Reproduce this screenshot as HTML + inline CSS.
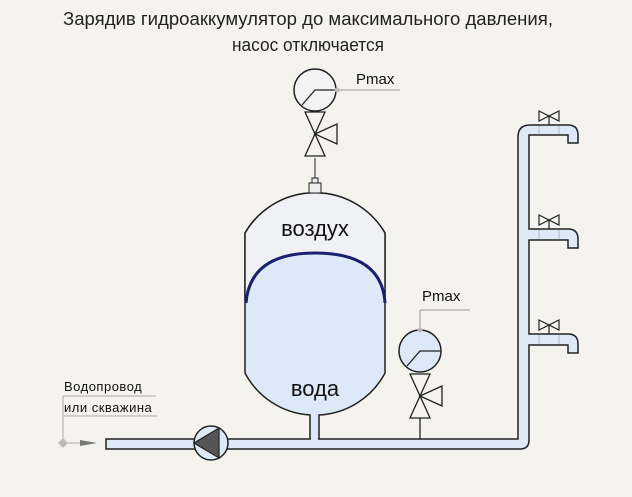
<!DOCTYPE html>
<html><head><meta charset="utf-8"><style>
html,body{margin:0;padding:0;background:#f5f3ee;}
svg{display:block;font-family:"Liberation Sans","DejaVu Sans",sans-serif;}
</style></head><body>
<svg width="632" height="497" viewBox="0 0 632 497" xmlns="http://www.w3.org/2000/svg">
<rect width="632" height="497" fill="#f5f3ee"/>
<text x="308" y="25" font-size="18" text-anchor="middle" fill="#222" textLength="490" lengthAdjust="spacingAndGlyphs">Зарядив гидроаккумулятор до максимального давления,</text>
<text x="308" y="51" font-size="18" text-anchor="middle" fill="#222" textLength="152" lengthAdjust="spacingAndGlyphs">насос отключается</text>

<!-- tank -->
<path d="M245,373 L245,233 A81,81 0 0 1 385,233 L385,373 A79,79 0 0 1 319,415 L319,439 L310,439 L310,415 A79,79 0 0 1 245,373 Z" fill="#dde9f6" stroke="#222" stroke-width="1.5"/>
<path d="M245,303 L245,233 A81,81 0 0 1 385,233 L385,303 Q380,253 315,253 Q250,253 245,303 Z" fill="#eff1f4"/>
<path d="M245,300 L245,233 A81,81 0 0 1 385,233 L385,300" fill="none" stroke="#222" stroke-width="1.5"/>
<path d="M246,303 Q250,253 315,253 Q382,253 385,303" fill="none" stroke="#1a1f6e" stroke-width="3"/>
<text x="315" y="236" font-size="22" text-anchor="middle" fill="#111">воздух</text>
<text x="315" y="396" font-size="22" text-anchor="middle" fill="#111">вода</text>
<rect x="309" y="183" width="12" height="10" fill="#eee" stroke="#222"/>
<rect x="312" y="178" width="6" height="5" fill="#eee" stroke="#222"/>
<line x1="315" y1="158" x2="315" y2="178" stroke="#222"/>

<!-- top gauge & valve -->
<circle cx="315" cy="90" r="21" fill="#f3f3f3" stroke="#222" stroke-width="1.5"/>
<polyline points="302,105 315,90 336,90" fill="none" stroke="#222" stroke-width="1.3"/>
<line x1="336" y1="90" x2="400" y2="90" stroke="#999"/>
<circle cx="337" cy="90" r="2.5" fill="#bbb"/>
<text x="356" y="84" font-size="15" fill="#111">Pmax</text>
<path d="M305,112 L325,112 L315,134 Z M305,156 L325,156 L315,134 Z M315,134 L337,124 L337,144 Z" fill="none" stroke="#222" stroke-width="1.3"/>

<!-- main pipe -->
<path d="M106,439 L518,439 L518,137 Q518,125 530,125 L568,125 Q578,125 578,135 L578,143 L568,143 L568,135 L529,135 L529,229 L568,229 Q578,229 578,239 L578,248 L568,248 L568,240 L529,240 L529,334 L568,334 Q578,334 578,344 L578,353 L568,353 L568,345 L529,345 L529,440 Q529,449 520,449 L106,449 Z" fill="#dde9f6" stroke="#222" stroke-width="1.5"/>
<rect x="311" y="437" width="7" height="4" fill="#dde9f6"/>
<g stroke="#aab" stroke-width="0.8">
<line x1="539" y1="126" x2="539" y2="134"/><line x1="559" y1="126" x2="559" y2="134"/>
<line x1="539" y1="230" x2="539" y2="239"/><line x1="559" y1="230" x2="559" y2="239"/>
<line x1="539" y1="335" x2="539" y2="344"/><line x1="559" y1="335" x2="559" y2="344"/>
</g>
<g fill="none" stroke="#222" stroke-width="1.2">
<path d="M539,111 L559,121 L559,111 L539,121 Z M549,116 L549,125"/>
<path d="M539,215 L559,225 L559,215 L539,225 Z M549,220 L549,229"/>
<path d="M539,320 L559,330 L559,320 L539,330 Z M549,325 L549,334"/>
</g>

<!-- pump -->
<circle cx="211" cy="443" r="17" fill="#dde9f6" stroke="#222" stroke-width="1.5"/>
<path d="M194,443 L219,428 L219,458 Z" fill="#555" stroke="#222" stroke-width="1.2"/>

<!-- second gauge -->
<line x1="420" y1="418" x2="420" y2="439" stroke="#222" stroke-width="1.3"/>
<circle cx="420" cy="351" r="21" fill="#dde9f6" stroke="#222" stroke-width="1.5"/>
<polyline points="407,366 420,351 441,351" fill="none" stroke="#222" stroke-width="1.3"/>
<line x1="420" y1="330" x2="420" y2="310" stroke="#999"/>
<line x1="420" y1="310" x2="470" y2="310" stroke="#999"/>
<circle cx="420" cy="330" r="2.5" fill="#bbb"/>
<text x="422" y="301" font-size="15" fill="#111">Pmax</text>
<path d="M410,374 L430,374 L420,396 Z M410,418 L430,418 L420,396 Z M420,396 L442,386 L442,406 Z" fill="none" stroke="#222" stroke-width="1.3"/>

<!-- inlet label -->
<text x="64" y="391" font-size="13" fill="#111" letter-spacing="0.5">Водопровод</text>
<line x1="63" y1="396" x2="156" y2="396" stroke="#aaa"/>
<text x="64" y="412" font-size="13" fill="#111" letter-spacing="0.5">или скважина</text>
<line x1="63" y1="416" x2="157" y2="416" stroke="#aaa"/>
<line x1="63" y1="396" x2="63" y2="443" stroke="#aaa"/>
<path d="M63,438 L68,443 L63,448 L58,443 Z" fill="#bbb"/>
<line x1="68" y1="443" x2="84" y2="443" stroke="#aaa"/>
<path d="M80,440 L97,443 L80,446 Z" fill="#777"/>
</svg>
</body></html>
